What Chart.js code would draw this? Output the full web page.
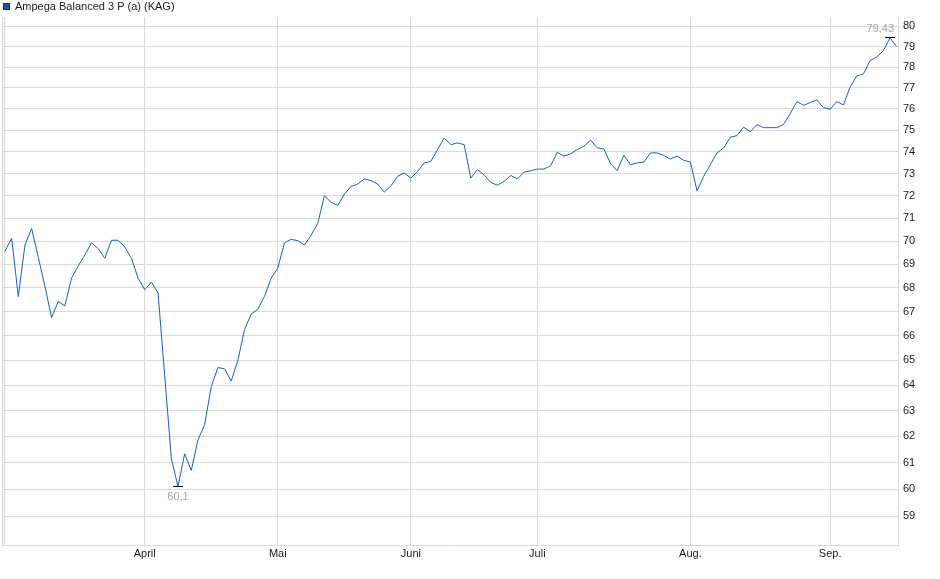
<!DOCTYPE html>
<html>
<head>
<meta charset="utf-8">
<script src="https://cdn.jsdelivr.net/npm/chart.js@4.4.1/dist/chart.umd.min.js"></script>
<style>
html,body{margin:0;padding:0;background:#fff;}
#wrap{width:940px;height:579px;position:relative;}
</style>
</head>
<body>
<div id="wrap"><canvas id="c"></canvas></div>
<script>
// ---- data ----
const seriesName = 'Ampega Balanced 3 P (a) (KAG)';
const prices = [
  69.57, 70.13, 67.63, 69.83, 70.56, 69.30, 68.07, 66.75, 67.42, 67.24,
  68.41, 68.93, 69.40, 69.93, 69.68, 69.26, 70.04, 70.04, 69.75, 69.26,
  68.41, 67.92, 68.24, 67.78, 64.40, 61.15, 60.10, 61.33, 60.70, 61.87,
  62.45, 63.95, 64.71, 64.66, 64.17, 65.00, 66.26, 66.90, 67.10, 67.64,
  68.41, 68.84, 69.93, 70.08, 70.02, 69.83, 70.26, 70.78, 72.00, 71.72,
  71.57, 72.08, 72.42, 72.53, 72.76, 72.69, 72.53, 72.17, 72.45, 72.88,
  73.03, 72.80, 73.10, 73.49, 73.56, 74.10, 74.64, 74.33, 74.41, 74.33,
  72.80, 73.18, 72.95, 72.60, 72.48, 72.65, 72.92, 72.76, 73.07, 73.13,
  73.21, 73.21, 73.36, 73.98, 73.80, 73.91, 74.10, 74.26, 74.54, 74.18,
  74.13, 73.46, 73.13, 73.84, 73.41, 73.49, 73.53, 73.95, 73.95, 73.83,
  73.67, 73.80, 73.61, 73.53, 72.23, 72.88, 73.41, 73.95, 74.18, 74.67,
  74.75, 75.14, 74.93, 75.26, 75.12, 75.12, 75.12, 75.27, 75.78, 76.35,
  76.17, 76.30, 76.43, 76.06, 75.98, 76.35, 76.19, 77.04, 77.57, 77.67,
  78.32, 78.49, 78.80, 79.43, 79.00
];
const monthTickIndex = [0, 21, 41, 61, 80, 103, 124];
const monthLabels = ['', 'April', 'Mai', 'Juni', 'Juli', 'Aug.', 'Sep.'];
const yTickValues = [59,60,61,62,63,64,65,66,67,68,69,70,71,72,73,74,75,76,77,78,79,80];

// ---- styling ----
const FONT = "'Liberation Sans', Arial, Helvetica, sans-serif";
const LINE_COLOR = '#1c5cc8';
const GRID_COLOR = '#dadada';

Chart.defaults.font.family = FONT;
Chart.defaults.font.size = 11;
Chart.defaults.color = '#1a1a1a';

const points = prices.map((v, i) => ({x: i, y: v}));

function fmt(v){ return String(v).replace('.', ','); }

const decor = {
  id: 'decor',
  beforeDraw(chart){
    const ctx = chart.ctx;
    ctx.save();
    ctx.fillStyle = '#fff';
    ctx.fillRect(0, 0, chart.width, chart.height);
    ctx.restore();
  },
  afterDatasetsDraw(chart){
    const {ctx, chartArea: a, scales: {x, y}} = chart;
    ctx.save();
    // left frame line
    ctx.strokeStyle = GRID_COLOR;
    ctx.lineWidth = 1;
    ctx.beginPath();
    ctx.moveTo(Math.round(a.left) + 0.5, a.top);
    ctx.lineTo(Math.round(a.left) + 0.5, a.bottom + 1);
    ctx.stroke();

    // min / max markers
    let minI = 0, maxI = 0;
    prices.forEach((v, i) => { if (v < prices[minI]) minI = i; if (v > prices[maxI]) maxI = i; });
    ctx.font = '11px ' + FONT;
    ctx.fillStyle = '#a6a6a6';
    ctx.strokeStyle = '#000';
    // min
    let px = x.getPixelForValue(minI), py = Math.round(y.getPixelForValue(prices[minI])) + 0.5;
    ctx.beginPath(); ctx.moveTo(px - 5, py); ctx.lineTo(px + 5, py); ctx.stroke();
    ctx.textAlign = 'center'; ctx.textBaseline = 'middle';
    ctx.fillText(fmt(prices[minI]), px, py + 10);
    // max
    px = x.getPixelForValue(maxI); py = Math.round(y.getPixelForValue(prices[maxI])) - 0.5;
    ctx.beginPath(); ctx.moveTo(px - 5, py); ctx.lineTo(px + 5, py); ctx.stroke();
    ctx.textAlign = 'right'; ctx.textBaseline = 'middle';
    ctx.fillText(fmt(prices[maxI]), px + 4, py - 9);
    ctx.restore();
  },
  afterDraw(chart){
    const ctx = chart.ctx;
    ctx.save();
    ctx.fillStyle = '#1d4fb5';
    ctx.strokeStyle = '#0f2a6a';
    ctx.lineWidth = 1;
    ctx.fillRect(3, 3, 7, 7);
    ctx.strokeRect(3.5, 3.5, 6, 6);
    ctx.font = '11px ' + FONT;
    ctx.fillStyle = '#1a1a1a';
    ctx.textAlign = 'left';
    ctx.textBaseline = 'middle';
    ctx.fillText(seriesName, 15, 6.5);
    ctx.restore();
  }
};

new Chart(document.getElementById('c'), {
  type: 'line',
  data: {
    datasets: [{
      label: seriesName,
      data: points,
      borderColor: LINE_COLOR,
      backgroundColor: LINE_COLOR,
      borderWidth: 1,
      pointRadius: 0,
      pointHoverRadius: 0,
      tension: 0,
      fill: false
    }]
  },
  options: {
    responsive: true,
    maintainAspectRatio: false,
    animation: false,
    events: [],
    layout: { padding: { left: 2, top: 17, right: 25, bottom: 0 } },
    plugins: { legend: { display: false }, tooltip: { enabled: false } },
    scales: {
      x: {
        type: 'linear',
        position: 'bottom',
        min: -0.45,
        max: 134.2,
        afterBuildTicks: s => { s.ticks = monthTickIndex.map(v => ({value: v})); },
        afterFit: s => { s.height = 34; },
        ticks: {
          autoSkip: false,
          maxRotation: 0,
          padding: 2,
          color: '#1a1a1a',
          callback: (v, i) => monthLabels[i]
        },
        grid: { color: GRID_COLOR, lineWidth: 1, drawTicks: false },
        border: { display: true, color: GRID_COLOR }
      },
      y: {
        type: 'logarithmic',
        position: 'right',
        min: 57.95,
        max: 80.47,
        afterBuildTicks: s => { s.ticks = yTickValues.map(v => ({value: v})); },
        afterFit: s => { s.width = 17; },
        ticks: {
          autoSkip: false,
          padding: 5,
          color: '#1a1a1a',
          callback: v => String(v)
        },
        grid: { color: GRID_COLOR, lineWidth: 1, drawTicks: false },
        border: { display: true, color: GRID_COLOR }
      }
    }
  },
  plugins: [decor]
});
</script>
</body>
</html>
